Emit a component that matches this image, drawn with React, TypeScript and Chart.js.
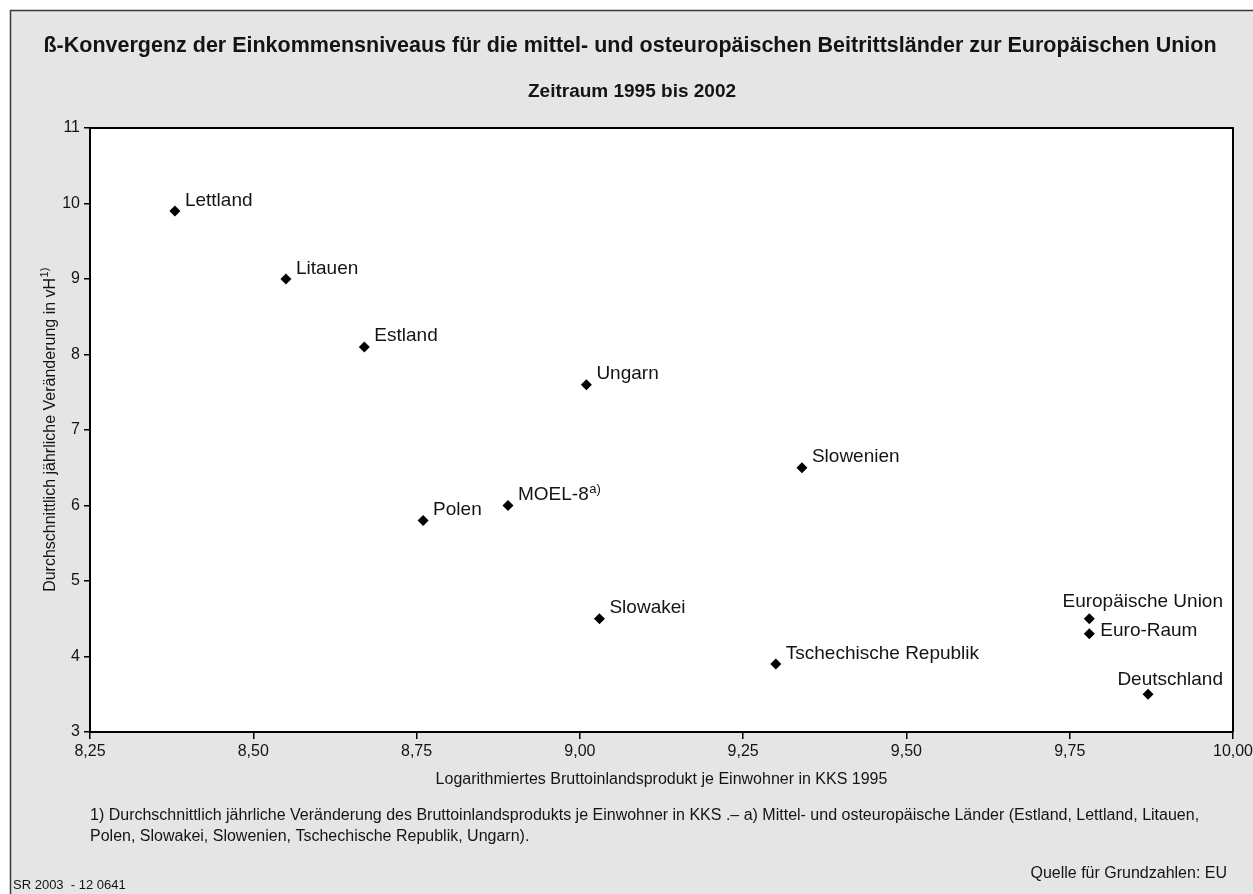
import React, { useEffect, useRef } from 'react';
import { Chart, registerables } from 'chart.js';

Chart.register(...registerables);

const countries = [
  'Lettland', 'Litauen', 'Estland', 'Ungarn', 'Slowenien', 'Polen', 'MOEL-8',
  'Slowakei', 'Tschechische Republik', 'Europäische Union', 'Euro-Raum', 'Deutschland',
];
const labelSuperscripts = ['', '', '', '', '', '', 'a)', '', '', '', '', ''];
const logGdp1995 = [8.38, 8.55, 8.67, 9.01, 9.34, 8.76, 8.89, 9.03, 9.30, 9.78, 9.78, 9.87];
const avgGrowth = [9.9, 9.0, 8.1, 7.6, 6.5, 5.8, 6.0, 4.5, 3.9, 4.5, 4.3, 3.5];

const xTickValues = [8.25, 8.5, 8.75, 9.0, 9.25, 9.5, 9.75, 10.0];
const yTickValues = [3, 4, 5, 6, 7, 8, 9, 10, 11];

const titleText = 'ß-Konvergenz der Einkommensniveaus für die mittel- und osteuropäischen Beitrittsländer zur Europäischen Union';
const subtitleText = 'Zeitraum 1995 bis 2002';
const xTitleText = 'Logarithmiertes Bruttoinlandsprodukt je Einwohner in KKS 1995';
const yTitleText = 'Durchschnittlich jährliche Veränderung in vH';
const yTitleSup = '1)';
const footnoteLines = [
  '1) Durchschnittlich jährliche Veränderung des Bruttoinlandsprodukts je Einwohner in KKS .– a) Mittel- und osteuropäische Länder (Estland, Lettland, Litauen,',
  'Polen, Slowakei, Slowenien, Tschechische Republik, Ungarn).',
];
const sourceText = 'Quelle für Grundzahlen: EU';
const codeText = 'SR 2003  - 12 0641';

const FONT = '"Liberation Sans", Arial, Helvetica, sans-serif';
const TEXT = '#141414';

// label placement (style only)
const labelPlacement: Record<string, { align?: 'left' | 'right'; dx?: number; dy?: number }> = {
  'Europäische Union': { align: 'right', dy: -12 },
  'Euro-Raum': { dx: 11, dy: 2.5 },
  'Deutschland': { align: 'right', dy: -9 },
};

const framePlugin = {
  id: 'frame',
  beforeDraw(chart: any) {
    const { ctx, width, height, chartArea } = chart;
    ctx.save();
    ctx.fillStyle = '#ffffff';
    ctx.fillRect(0, 0, width, height);
    ctx.fillStyle = '#e5e5e5';
    ctx.fillRect(10, 10, width, height);
    ctx.strokeStyle = '#3a3a3a';
    ctx.lineWidth = 1.5;
    ctx.beginPath();
    ctx.moveTo(10.5, height + 5);
    ctx.lineTo(10.5, 10.5);
    ctx.lineTo(width + 5, 10.5);
    ctx.stroke();
    ctx.fillStyle = '#ffffff';
    ctx.fillRect(chartArea.left, chartArea.top, chartArea.right - chartArea.left, chartArea.bottom - chartArea.top);
    ctx.restore();
  },
  afterDraw(chart: any) {
    const { ctx, chartArea } = chart;
    ctx.save();
    ctx.strokeStyle = '#000';
    ctx.lineWidth = 2;
    ctx.beginPath();
    ctx.moveTo(chartArea.left, chartArea.top);
    ctx.lineTo(chartArea.right, chartArea.top);
    ctx.lineTo(chartArea.right, chartArea.bottom);
    ctx.stroke();

    ctx.fillStyle = TEXT;
    ctx.textAlign = 'center';
    ctx.textBaseline = 'alphabetic';
    ctx.font = `bold 21.5px ${FONT}`;
    ctx.fillText(titleText, 630, 52);
    ctx.font = `bold 19px ${FONT}`;
    ctx.fillText(subtitleText, 632, 97);

    // y title rotated with superscript
    ctx.save();
    const cy = (chartArea.top + chartArea.bottom) / 2;
    ctx.translate(55, cy);
    ctx.rotate(-Math.PI / 2);
    ctx.font = `16px ${FONT}`;
    const w1 = ctx.measureText(yTitleText).width;
    ctx.font = `11px ${FONT}`;
    const w2 = ctx.measureText(yTitleSup).width;
    const total = w1 + w2;
    ctx.textAlign = 'left';
    ctx.font = `16px ${FONT}`;
    ctx.fillText(yTitleText, -total / 2, 0);
    ctx.font = `11px ${FONT}`;
    ctx.fillText(yTitleSup, -total / 2 + w1 + 0.5, -7);
    ctx.restore();

    // footnotes
    ctx.textAlign = 'left';
    ctx.font = `16px ${FONT}`;
    ctx.fillText(footnoteLines[0], 90, 820);
    ctx.fillText(footnoteLines[1], 90, 841);
    ctx.textAlign = 'right';
    ctx.fillText(sourceText, 1227, 878);
    ctx.textAlign = 'left';
    ctx.font = `13px ${FONT}`;
    ctx.fillText(codeText, 13, 889);
    ctx.restore();
  },
};

const labelPlugin = {
  id: 'pointLabels',
  afterDatasetsDraw(chart: any) {
    const { ctx, chartArea } = chart;
    const meta = chart.getDatasetMeta(0);
    ctx.save();
    ctx.fillStyle = TEXT;
    ctx.textBaseline = 'alphabetic';
    meta.data.forEach((pt: any, i: number) => {
      const name = countries[i];
      const sup = labelSuperscripts[i];
      const p = labelPlacement[name] || {};
      ctx.font = `19px ${FONT}`;
      const w = ctx.measureText(name).width;
      ctx.font = `13px ${FONT}`;
      const ws = sup ? ctx.measureText(sup).width : 0;
      const y = pt.y + (p.dy ?? -5.5);
      let x: number;
      if (p.align === 'right') {
        x = chartArea.right - 10 - w - ws;
      } else {
        x = pt.x + (p.dx ?? 10);
      }
      ctx.textAlign = 'left';
      ctx.font = `19px ${FONT}`;
      ctx.fillText(name, x, y);
      if (sup) {
        ctx.font = `13px ${FONT}`;
        ctx.fillText(sup, x + w + 0.5, y - 7);
      }
    });
    ctx.restore();
  },
};

export default function App() {
  const ref = useRef<HTMLCanvasElement | null>(null);

  useEffect(() => {
    if (!ref.current) return;
    const chart = new Chart(ref.current, {
      type: 'scatter',
      data: {
        datasets: [
          {
            data: logGdp1995.map((x, i) => ({ x, y: avgGrowth[i] })),
            pointStyle: 'rectRot',
            pointRadius: 5.5,
            pointBackgroundColor: '#000',
            pointBorderWidth: 0,
            showLine: false,
          },
        ],
      },
      options: {
        responsive: false,
        animation: false,
        layout: { padding: { left: 0, top: 128, right: 20, bottom: 102 } },
        plugins: {
          legend: { display: false },
          tooltip: { enabled: false },
          title: { display: false },
        },
        scales: {
          x: {
            type: 'linear',
            min: 8.25,
            max: 10,
            afterFit(scale: any) {
              scale.height = 60;
              scale.paddingLeft = 0;
              scale.paddingRight = 0;
            },
            afterBuildTicks(scale: any) { scale.ticks = xTickValues.map((v) => ({ value: v })); },
            ticks: {
              color: TEXT,
              font: { size: 16, family: FONT },
              padding: 3,
              maxRotation: 0,
              autoSkip: false,
              callback: (v: any) => Number(v).toFixed(2).replace('.', ','),
            },
            grid: { drawOnChartArea: false, drawTicks: true, tickLength: 7, color: '#000', lineWidth: 1.5 },
            border: { display: true, color: '#000', width: 2 },
            title: {
              display: true,
              text: xTitleText,
              color: TEXT,
              font: { size: 16, family: FONT },
              padding: { top: 0, bottom: 3 },
            },
          },
          y: {
            type: 'linear',
            min: 3,
            max: 11,
            afterFit(scale: any) {
              scale.width = 90;
              scale.paddingTop = 0;
              scale.paddingBottom = 0;
            },
            afterBuildTicks(scale: any) { scale.ticks = yTickValues.map((v) => ({ value: v })); },
            ticks: {
              color: TEXT,
              font: { size: 16, family: FONT },
              padding: 4,
              autoSkip: false,
              callback: (v: any) => String(v),
            },
            grid: { drawOnChartArea: false, drawTicks: true, tickLength: 6, color: '#000', lineWidth: 1.5 },
            border: { display: true, color: '#000', width: 2 },
          },
        },
      },
      plugins: [framePlugin, labelPlugin],
    });
    return () => chart.destroy();
  }, []);

  return (
    <div style={{ position: 'absolute', left: 0, top: 0, width: 1253, height: 894 }}>
      <canvas ref={ref} width={1253} height={894} style={{ display: 'block' }} />
    </div>
  );
}
